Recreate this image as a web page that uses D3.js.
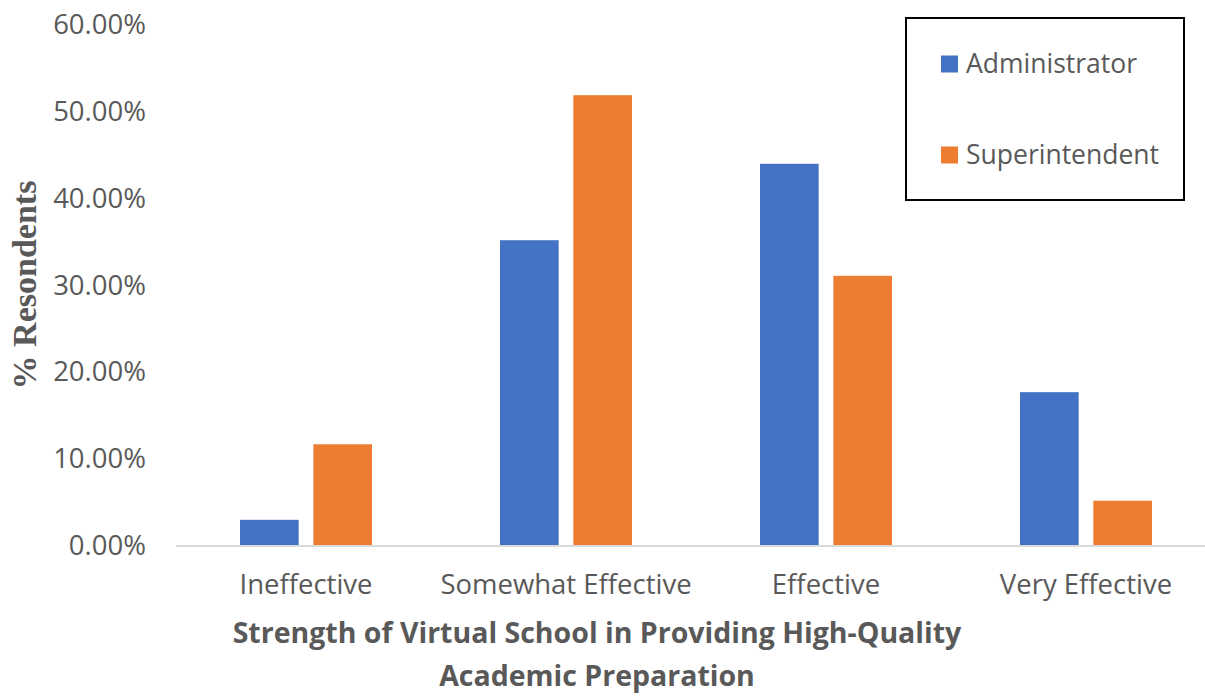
<!DOCTYPE html>
<html>
<head>
<meta charset="utf-8">
<script src="https://cdn.jsdelivr.net/npm/d3@7"></script>
<style>
  html, body { margin: 0; padding: 0; background: #fff; }
  svg { display: block; }
</style>
</head>
<body>
<svg id="chart" width="1205" height="696"></svg>
<script>
// Survey results: share of respondents per rating
const categories = ["Ineffective", "Somewhat Effective", "Effective", "Very Effective"];
const seriesNames = ["Administrator", "Superintendent"];
const administrator = [0.029, 0.351, 0.439, 0.176];
const superintendent = [0.116, 0.518, 0.310, 0.051];
const yTicks = [0, 0.1, 0.2, 0.3, 0.4, 0.5, 0.6];
const colors = ["#4472C4", "#ED7D31"];

const svg = d3.select("#chart");
const textColor = "#595959";
const font = "'Open Sans', sans-serif";

const y = d3.scaleLinear().domain([0, 0.6]).range([545, 24]);
const x0 = d3.scaleBand().domain(categories).range([176, 1216]).padding(0);
const x1 = d3.scaleBand().domain(seriesNames)
  .range([x0.bandwidth() / 2 - 66, x0.bandwidth() / 2 + 66])
  .paddingInner(0.2).paddingOuter(0);

const values = [administrator, superintendent];

// Y axis labels
const yAxis = d3.axisLeft(y).tickValues(yTicks).tickFormat(d3.format(".2%")).tickSize(0).tickPadding(0);
const yg = svg.append("g").attr("transform", "translate(146,0)").call(yAxis);
yg.select(".domain").remove();
yg.selectAll("text")
  .attr("fill", textColor)
  .style("font-family", font)
  .style("font-size", "27.5px")
  .attr("dy", "0.35em");

// Bars
categories.forEach((c, i) => {
  seriesNames.forEach((s, j) => {
    svg.append("rect")
      .attr("x", x0(c) + x1(s))
      .attr("y", y(values[j][i]))
      .attr("width", x1.bandwidth())
      .attr("height", y(0) - y(values[j][i]))
      .attr("fill", colors[j]);
  });
});

// X axis baseline and category labels
const xAxis = d3.axisBottom(x0).tickSize(0).tickPadding(0);
const xg = svg.append("g").attr("transform", `translate(0,${y(0)})`).call(xAxis);
xg.select(".domain").remove();
svg.append("line")
  .attr("x1", 176).attr("x2", 1205)
  .attr("y1", y(0) + 1).attr("y2", y(0) + 1)
  .attr("stroke", "#d9d9d9").attr("stroke-width", 2);
xg.selectAll("text")
  .attr("fill", textColor)
  .style("font-family", font)
  .style("font-size", "27.5px")
  .attr("y", 49)
  .attr("dy", 0);

// Axis titles
svg.append("text")
  .attr("transform", "translate(36,285) rotate(-90)")
  .attr("text-anchor", "middle")
  .attr("fill", textColor)
  .style("font-family", "'Liberation Serif', serif")
  .style("font-weight", "bold")
  .style("font-size", "34px")
  .text("% Resondents");

const xTitle = svg.append("text")
  .attr("text-anchor", "middle")
  .attr("fill", textColor)
  .style("font-family", font)
  .style("font-weight", "bold")
  .style("font-size", "28.5px");
xTitle.append("tspan").attr("x", 597).attr("y", 643).text("Strength of Virtual School in Providing High-Quality");
xTitle.append("tspan").attr("x", 597).attr("y", 686).text("Academic Preparation");

// Legend
svg.append("rect")
  .attr("x", 906).attr("y", 18).attr("width", 278).attr("height", 182)
  .attr("fill", "#fff").attr("stroke", "#000").attr("stroke-width", 2);
const legendY = [64, 155];
seriesNames.forEach((s, j) => {
  svg.append("rect")
    .attr("x", 941).attr("y", legendY[j] - 8.5)
    .attr("width", 17).attr("height", 17)
    .attr("fill", colors[j]);
  svg.append("text")
    .attr("x", 966).attr("y", legendY[j])
    .attr("dy", "0.35em")
    .attr("fill", textColor)
    .style("font-family", font)
    .style("font-size", "26.5px")
    .text(s);
});
</script>
</body>
</html>
